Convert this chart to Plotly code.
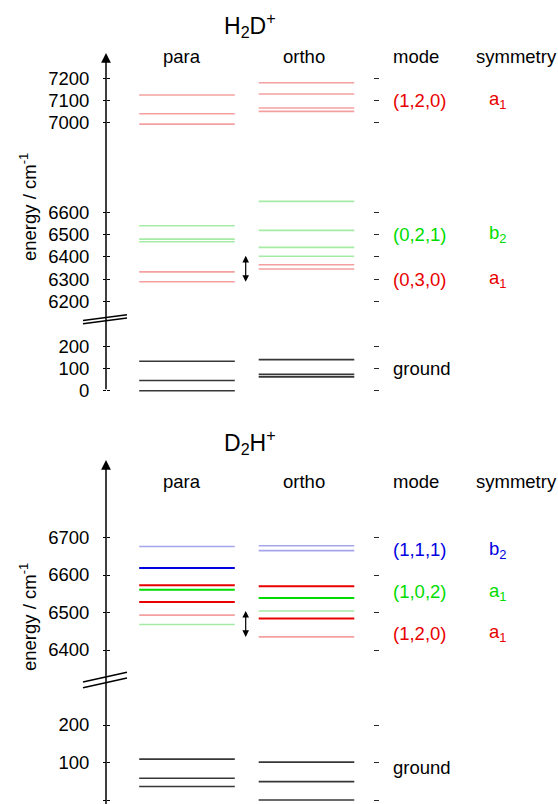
import plotly.graph_objects as go

W, H = 558, 804

# ---------------- data (energies in cm^-1) ----------------
# H2D+
h2d_para_energy = [0, 46, 132, 6288, 6332, 6467, 6479, 6539, 6994, 7040, 7124]
h2d_para_band = ["ground", "ground", "ground", "(0,3,0)", "(0,3,0)", "(0,2,1)", "(0,2,1)", "(0,2,1)",
                 "(1,2,0)", "(1,2,0)", "(1,2,0)"]
h2d_para_strength = ["g", "g", "g", "weak", "weak", "weak", "weak", "weak", "weak", "weak", "weak"]
h2d_ortho_energy = [62, 73, 139, 6345, 6364, 6402, 6442, 6518, 6648, 7051, 7066, 7129, 7179]
h2d_ortho_band = ["ground", "ground", "ground", "(0,3,0)", "(0,3,0)", "(0,2,1)", "(0,2,1)", "(0,2,1)",
                  "(0,2,1)", "(1,2,0)", "(1,2,0)", "(1,2,0)", "(1,2,0)"]
h2d_ortho_strength = ["g", "g", "g", "weak", "weak", "weak", "weak", "weak", "weak", "weak", "weak", "weak", "weak"]
h2d_ticks = [0, 100, 200, 6200, 6300, 6400, 6500, 6600, 7000, 7100, 7200]
h2d_modes = ["(1,2,0)", "(0,2,1)", "(0,3,0)", "ground"]
h2d_mode_energy = [7100, 6500, 6300, 100]
h2d_symmetry = ["a<sub>1</sub>", "b<sub>2</sub>", "a<sub>1</sub>", ""]
h2d_window = [6281, 6404]

# D2H+
d2h_para_energy = [36, 58, 109, 6468, 6493, 6528, 6561, 6573, 6619, 6676]
d2h_para_band = ["ground", "ground", "ground", "(1,0,2)", "(1,2,0)", "(1,2,0)", "(1,0,2)", "(1,2,0)",
                 "(1,1,1)", "(1,1,1)"]
d2h_para_strength = ["g", "g", "g", "weak", "weak", "strong", "strong", "strong", "strong", "weak"]
d2h_ortho_energy = [0, 49, 101, 6435, 6484, 6504, 6539, 6570, 6665, 6678]
d2h_ortho_band = ["ground", "ground", "ground", "(1,2,0)", "(1,2,0)", "(1,0,2)", "(1,0,2)", "(1,2,0)",
                  "(1,1,1)", "(1,1,1)"]
d2h_ortho_strength = ["g", "g", "g", "weak", "strong", "weak", "strong", "strong", "weak", "weak"]
d2h_ticks = [0, 100, 200, 6400, 6500, 6600, 6700]
d2h_modes = ["(1,1,1)", "(1,0,2)", "(1,2,0)", "ground"]
d2h_mode_energy = [6667, 6555, 6445, 88]
d2h_symmetry = ["b<sub>2</sub>", "a<sub>1</sub>", "a<sub>1</sub>", ""]
d2h_window = [6431, 6504]

# ---------------- styles ----------------
band_hue = {"ground": "k", "(1,2,0)": "r", "(0,3,0)": "r", "(0,2,1)": "g", "(1,0,2)": "g", "(1,1,1)": "b"}
strong_col = {"r": "rgb(232,0,0)", "g": "rgb(0,220,0)", "b": "rgb(0,0,225)", "k": "rgb(55,55,55)"}
weak_col = {"r": "rgb(244,160,160)", "g": "rgb(165,235,165)", "b": "rgb(165,165,235)", "k": "rgb(55,55,55)"}
text_col = {"r": "rgb(232,0,0)", "g": "rgb(0,220,0)", "b": "rgb(0,0,225)", "k": "black"}

FONT = "Liberation Sans, Arial, sans-serif"
FS = 18.5
XR = [-1.565, 3.105]


def xd(px):
    return XR[0] + px / W * (XR[1] - XR[0])


AX_X = xd(106)
HW = 0.4

panels = [
    dict(title="H<sub>2</sub>D<sup>+</sup>", zero=390.7, scale=0.2233, dom=(45, 400), offset=5800,
         ticks=h2d_ticks, para=(h2d_para_energy, h2d_para_band, h2d_para_strength),
         ortho=(h2d_ortho_energy, h2d_ortho_band, h2d_ortho_strength),
         modes=h2d_modes, mode_e=h2d_mode_energy, sym=h2d_symmetry, window=h2d_window,
         top_m=1512, bot_m=0, title_px=25, head_px=56, ytitle_px=207, ids=("", "3", "5")),
    dict(title="D<sub>2</sub>H<sup>+</sup>", zero=800, scale=0.375, dom=(452, 804), offset=6000,
         ticks=d2h_ticks, para=(d2h_para_energy, d2h_para_band, d2h_para_strength),
         ortho=(d2h_ortho_energy, d2h_ortho_band, d2h_ortho_strength),
         modes=d2h_modes, mode_e=d2h_mode_energy, sym=d2h_symmetry, window=d2h_window,
         top_m=907, bot_m=-15, title_px=442, head_px=481, ytitle_px=617, ids=("2", "4", "6")),
]

fig = go.Figure()
annotations = []
shapes = []

for i, p in enumerate(panels):
    xid = "x" if i == 0 else "x2"
    yid = "y" if i == 0 else "y2"
    off = p["offset"]

    def brk(e, off=off):
        return e - off if e >= 1000 else e

    # levels
    groups = {}
    for center, (es, bands, strs) in ((0, p["para"]), (1, p["ortho"])):
        for e, b, s in zip(es, bands, strs):
            hue = band_hue[b]
            if s == "strong":
                col, wid = strong_col[hue], 2.0
            elif s == "weak":
                col, wid = weak_col[hue], 1.6
            else:
                col, wid = strong_col[hue], 1.6
            g = groups.setdefault((col, wid), ([], [], []))
            g[0].extend([center - HW, center + HW, None])
            g[1].extend([brk(e), brk(e), None])
            g[2].extend([e, e, None])
    for (col, wid), (xs, ys, es) in groups.items():
        fig.add_trace(go.Scatter(x=xs, y=ys, customdata=es, mode="lines",
                                 line=dict(color=col, width=wid), xaxis=xid, yaxis=yid,
                                 hovertemplate="%{customdata} cm⁻¹<extra></extra>", showlegend=False))

    # axis ranges
    zero, sc = p["zero"], p["scale"]
    d_top, d_bot = p["dom"]
    yr = [(zero - d_bot) / sc, (zero - d_top) / sc]
    dom = [1 - d_bot / H, 1 - d_top / H]
    tv = [brk(t) for t in p["ticks"]]
    tt = [str(t) for t in p["ticks"]]
    base, inner, right = p["ids"]
    common = dict(range=yr, tickvals=tv, showgrid=False, zeroline=False, showline=False,
                  tickcolor="black", tickwidth=1, fixedrange=True)
    fig.layout["yaxis" + base] = dict(common, domain=dom, anchor="free", position=106 / W,
                                      ticks="outside", ticklen=3, ticktext=tt,
                                      tickfont=dict(family=FONT, size=FS, color="black"),
                                      ticklabelstandoff=10)
    fig.layout["yaxis" + inner] = dict(common, overlaying=yid, anchor="free", position=106 / W,
                                       ticks="inside", ticklen=3, showticklabels=False)
    fig.layout["yaxis" + right] = dict(common, overlaying=yid, anchor="free", position=373 / W,
                                       side="right", ticks="outside", ticklen=5, showticklabels=False,
                                       tickcolor="rgb(40,40,40)")
    fig.layout["xaxis" + ("" if i == 0 else "2")] = dict(range=XR, domain=[0, 1], visible=False,
                                                         anchor=yid, fixedrange=True)
    # empty traces so the overlaid tick axes are drawn
    for aid in (inner, right):
        fig.add_trace(go.Scatter(x=[None], y=[None], xaxis=xid, yaxis="y" + aid, mode="lines",
                                 showlegend=False, hoverinfo="skip"))

    # axis line with arrow
    annotations.append(dict(x=AX_X, y=p["top_m"], ax=AX_X, ay=p["bot_m"], xref=xid, yref=yid,
                            axref=xid, ayref=yid, showarrow=True, arrowhead=2, arrowsize=1.3,
                            arrowwidth=1.5, arrowcolor="black", text=""))
    # double arrow (window)
    wx = xd(245.7)
    annotations.append(dict(x=wx, y=brk(p["window"][1]), ax=wx, ay=brk(p["window"][0]), xref=xid,
                            yref=yid, axref=xid, ayref=yid, showarrow=True, arrowhead=2,
                            arrowside="end+start", arrowsize=1.1, arrowwidth=1.2,
                            arrowcolor="black", text=""))
    # break marks
    for dy in (7.5, -7.5):
        shapes.append(dict(type="line", xref=xid, yref=yid, x0=xd(83), x1=xd(127),
                           y0=320 + dy - 13, y1=320 + dy + 13, line=dict(color="black", width=1.5)))

    # labels
    for m, e, s in zip(p["modes"], p["mode_e"], p["sym"]):
        hue = band_hue[m]
        annotations.append(dict(x=xd(391), y=brk(e), xref=xid, yref=yid, text=m, showarrow=False,
                                xanchor="left", yanchor="middle",
                                font=dict(family=FONT, size=FS, color=text_col[hue])))
        if s:
            annotations.append(dict(x=xd(487), y=brk(e), xref=xid, yref=yid, text=s, showarrow=False,
                                    xanchor="left", yanchor="middle",
                                    font=dict(family=FONT, size=FS, color=text_col[hue])))

    # headers
    hy = 1 - p["head_px"] / H
    for txt, xpx, anc in (("para", 182.3, "center"), ("ortho", 304.3, "center"),
                          ("mode", 391, "left"), ("symmetry", 474, "left")):
        annotations.append(dict(x=xd(xpx), y=hy, xref=xid, yref="paper", text=txt, showarrow=False,
                                xanchor=anc, yanchor="middle",
                                font=dict(family=FONT, size=FS, color="black")))
    # title
    annotations.append(dict(x=xd(250), y=1 - p["title_px"] / H, xref=xid, yref="paper", text=p["title"],
                            showarrow=False, xanchor="center", yanchor="middle",
                            font=dict(family=FONT, size=23, color="black")))
    # y title
    annotations.append(dict(x=xd(28), y=1 - p["ytitle_px"] / H, xref=xid, yref="paper",
                            text="energy / cm<sup>-1</sup>", textangle=-90, showarrow=False,
                            xanchor="center", yanchor="middle",
                            font=dict(family=FONT, size=FS, color="black")))

fig.update_layout(width=W, height=H, margin=dict(l=0, r=0, t=0, b=0),
                  paper_bgcolor="white", plot_bgcolor="white",
                  annotations=annotations, shapes=shapes, showlegend=False)

fig.write_html("out.html", config={"displayModeBar": False},
               post_script="document.body.style.margin='0';document.body.style.overflow='hidden';")
